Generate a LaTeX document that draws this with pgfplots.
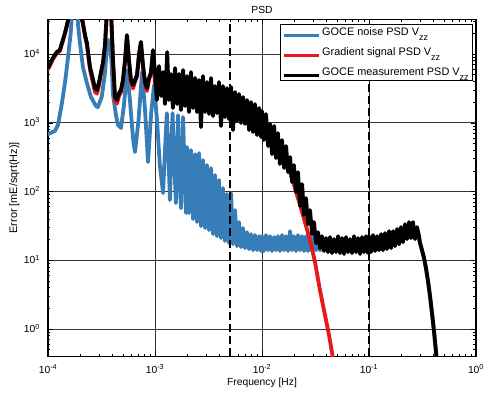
\documentclass[border=0pt]{standalone}
\usepackage{fontspec}
\setmainfont{Liberation Sans}
\usepackage{pgfplots}
\pgfplotsset{compat=1.18}
\usepackage{pgfplotstable}
\definecolor{nblue}{HTML}{377EB8}
\definecolor{sred}{HTML}{E41A1C}
\newcommand{\zz}{\raisebox{-5pt}[0pt][0pt]{\fontsize{9}{10}\selectfont zz}}

\pgfplotstableread{
x y
1.00e-4 685
1.16e-4 757
1.24e-4 926
1.35e-4 1935
1.44e-4 3790
1.54e-4 9040
1.63e-4 20200
1.69e-4 43700
1.79e-4 120000
1.91e-4 26400
1.99e-4 14450
2.12e-4 6470
2.31e-4 3790
2.52e-4 2370
2.81e-4 1750
2.93e-4 1690
3.18e-4 2370
3.41e-4 5290
3.56e-4 12640
3.67e-4 16000
3.80e-4 13500
3.93e-4 7400
4.05e-4 2530
4.32e-4 1290
4.51e-4 926
4.81e-4 838
5.13e-4 1810
5.47e-4 5850
5.83e-4 2140
6.23e-4 599
6.50e-4 375
7.02e-4 1095
7.57e-4 5470
8.07e-4 1530
8.61e-4 268
9.18e-4 1290
9.80e-4 3540
1.044e-3 1095
1.11e-3 242
1.19e-3 94.8
1.24e-3 400
1.29e-3 1380
1.34e-3 286
1.38e-3 75
1.42e-3 400
1.46e-3 1380
1.51e-3 286
1.57e-3 67.8
1.61e-3 286
1.64e-3 1290
1.69e-3 242
1.75e-3 57.3
1.79e-3 242
1.83e-3 1210
1.89e-3 205
1.95e-3 48.5
1.99e-3 443
2.08e-3 48.5
2.17e-3 400
2.27e-3 39.6
2.37e-3 350
2.47e-3 35.9
2.58e-3 362
2.69e-3 31.3
2.81e-3 286
2.94e-3 29.3
3.06e-3 242
3.20e-3 27.4
3.34e-3 219
3.49e-3 24
3.64e-3 173
3.80e-3 22.4
3.97e-3 147
4.14e-3 21
4.32e-3 112
4.51e-3 19
4.71e-3 91.6
4.92e-3 17.7
5.14e-3 94.8
5.36e-3 17.1
5.60e-3 53.6
5.85e-3 16
6.10e-3 35.9
6.37e-3 15.5
6.65e-3 29.3
6.94e-3 15
7.25e-3 25.6
7.57e-3 14.5
7.90e-3 24
8.25e-3 14
8.61e-3 23.2
8.99e-3 14
9.39e-3 22.4
9.80e-3 13.6
1.00e-2 22.4
1.04e-2 13.6
1.09e-2 23.2
1.14e-2 14
1.19e-2 22.4
1.24e-2 13.6
1.30e-2 21.7
1.35e-2 14
1.41e-2 22.4
1.47e-2 13.6
1.54e-2 23.2
1.61e-2 14
1.68e-2 22.4
1.75e-2 13.6
1.83e-2 26.5
1.91e-2 14
1.99e-2 22.4
2.08e-2 13.6
2.17e-2 23.2
2.27e-2 14
2.37e-2 22.4
2.47e-2 13.6
2.58e-2 22.4
2.69e-2 13.6
2.81e-2 22.4
2.94e-2 13.6
3.06e-2 21.7
3.20e-2 14
3.34e-2 21.7
3.49e-2 14
4.0e-2 17
5.0e-2 16.6
7.0e-2 16.8
0.10 17.5
0.13 18.5
0.16 20
0.20 23.5
0.25 28
0.28 25
0.300 17.7
0.313 14.0
0.327 10.7
0.341 7.67
0.356 4.97
0.372 3.0
0.388 1.70
0.405 0.93
0.423 0.46
0.432 0.30
}\noisetab

\pgfplotstableread{
x y
1.00e-4 6000
1.067e-4 7300
1.11e-4 8400
1.21e-4 10300
1.29e-4 11000
1.35e-4 14000
1.44e-4 19500
1.54e-4 30000
1.61e-4 60000
1.83e-4 100000
1.99e-4 60000
2.12e-4 27000
2.22e-4 18000
2.31e-4 13500
2.47e-4 5900
2.64e-4 3700
2.75e-4 2800
2.87e-4 2650
3.00e-4 3500
3.13e-4 5200
3.27e-4 7400
3.41e-4 13000
3.56e-4 44000
3.71e-4 100000
3.88e-4 44000
4.05e-4 7800
4.23e-4 2100
4.41e-4 1900
4.61e-4 2450
4.81e-4 2800
5.02e-4 4000
5.25e-4 8000
5.47e-4 18500
5.71e-4 8000
5.96e-4 3900
6.23e-4 3150
6.50e-4 3900
6.79e-4 4700
7.08e-4 9500
7.39e-4 14500
7.72e-4 6600
8.07e-4 3600
8.42e-4 2900
8.79e-4 4200
9.18e-4 5200
9.58e-4 11000
1.00e-3 3540
1.71e-3 2890
2.64e-3 2450
4.05e-3 2000
6.20e-3 1480
1.00e-2 926
1.47e-2 350
1.83e-2 191
2.27e-2 63.4
2.52e-2 35.9
2.81e-2 19.6
3.13e-2 9.4
3.48e-2 3.67
3.88e-2 1.59
4.23e-2 0.81
4.61e-2 0.376
}\signaltab

\pgfplotstableread{
x y
1.00e-4 6300
1.067e-4 7650
1.11e-4 8740
1.21e-4 10700
1.29e-4 11400
1.35e-4 14500
1.44e-4 20200
1.54e-4 31000
1.61e-4 60000
1.83e-4 100000
1.99e-4 60000
2.12e-4 28000
2.22e-4 18900
2.31e-4 14500
2.47e-4 6470
2.64e-4 4200
2.75e-4 3200
2.87e-4 3000
3.00e-4 3900
3.13e-4 5470
3.27e-4 7650
3.41e-4 13500
3.56e-4 44000
3.71e-4 100000
3.88e-4 44000
4.05e-4 8200
4.23e-4 2370
4.41e-4 2140
4.61e-4 2700
4.81e-4 3000
5.02e-4 4200
5.25e-4 8200
5.47e-4 18900
5.71e-4 8200
5.96e-4 4200
6.23e-4 3540
6.50e-4 4200
6.79e-4 4950
7.08e-4 9700
7.39e-4 15000
7.72e-4 6900
8.07e-4 3900
8.42e-4 3200
8.79e-4 4470
9.18e-4 5470
9.58e-4 11400
1.00e-3 5470
1.04e-3 2140
1.09e-3 6690
1.14e-3 2450
1.19e-3 5470
1.24e-3 1870
1.30e-3 10700
1.35e-3 2140
1.41e-3 5120
1.47e-3 1640
1.54e-3 6250
1.61e-3 1870
1.68e-3 5120
1.75e-3 1530
1.83e-3 5850
1.91e-3 1750
1.99e-3 4780
2.08e-3 1430
2.17e-3 5470
2.27e-3 1640
2.37e-3 4480
2.47e-3 1430
2.58e-3 4190
2.69e-3 865
2.81e-3 4780
2.94e-3 1430
3.06e-3 3910
3.20e-3 1340
3.34e-3 4480
3.49e-3 1250
3.64e-3 3420
3.80e-3 1380
3.97e-3 3910
4.14e-3 895
4.32e-3 3420
4.51e-3 1210
4.71e-3 3200
4.92e-3 1130
5.14e-3 3310
5.36e-3 783
5.60e-3 2800
5.85e-3 1060
6.10e-3 2620
6.37e-3 990
6.65e-3 2370
6.94e-3 958
7.25e-3 2140
7.57e-3 783
7.90e-3 2000
8.25e-3 732
8.61e-3 1870
8.99e-3 662
9.39e-3 1640
9.80e-3 620
1.00e-2 1480
1.04e-2 560
1.09e-2 1340
1.14e-2 458
1.19e-2 958
1.24e-2 350
1.30e-2 895
1.35e-2 306
1.41e-2 708
1.47e-2 251
1.54e-2 560
1.61e-2 219
1.68e-2 458
1.75e-2 191
1.83e-2 317
1.91e-2 137
1.99e-2 242
2.08e-2 98
2.17e-2 191
2.27e-2 61.3
2.37e-2 128
2.47e-2 45.4
2.58e-2 80.2
2.69e-2 33.5
2.81e-2 53.6
2.94e-2 24
3.06e-2 35.9
3.20e-2 17.7
3.34e-2 25.6
3.49e-2 15
3.64e-2 22.4
3.80e-2 13.6
3.97e-2 21
4.14e-2 13.1
4.32e-2 21.7
4.51e-2 12.7
4.71e-2 20.3
4.92e-2 13.1
5.14e-2 22.4
5.36e-2 12.7
5.60e-2 21
5.85e-2 12.3
6.10e-2 21.7
6.37e-2 13.1
6.65e-2 20.3
6.94e-2 12.7
7.25e-2 22.4
7.57e-2 13.1
7.90e-2 21
8.25e-2 12.3
8.61e-2 21.7
8.99e-2 13.1
9.39e-2 22.4
9.80e-2 12.7
0.100 22.4
0.104 13.1
0.109 23.2
0.114 13.6
0.119 22.4
0.124 14
0.130 24
0.135 14
0.141 24.8
0.147 14.5
0.154 26.5
0.161 15
0.168 26.5
0.175 16
0.183 28.4
0.191 17.1
0.199 30.3
0.208 18.3
0.217 33.5
0.227 20.3
0.237 35.9
0.247 21
0.258 35.9
0.269 20.3
0.281 30.3
0.294 22.4
0.300 17.7
0.313 14.0
0.327 10.7
0.341 7.67
0.356 4.97
0.372 3.0
0.388 1.70
0.405 0.93
0.423 0.46
0.432 0.30
}\meastab

\begin{document}
\begin{tikzpicture}
\begin{axis}[
  name=ax,
  scale only axis, width=428pt, height=337pt,
  xmode=log, ymode=log,
  xmin=1e-4, xmax=1, ymin=0.4, ymax=32000,
  xtick={1e-4,1e-3,1e-2,1e-1,1},
  xticklabels={10\textsuperscript{-4},10\textsuperscript{-3},10\textsuperscript{-2},10\textsuperscript{-1},10\textsuperscript{0}},
  ytick={1,10,100,1000,10000},
  yticklabels={10\textsuperscript{0},10\textsuperscript{1},10\textsuperscript{2},10\textsuperscript{3},10\textsuperscript{4}},
  minor xtick={2e-4,3e-4,4e-4,5e-4,6e-4,7e-4,8e-4,9e-4,2e-3,3e-3,4e-3,5e-3,6e-3,7e-3,8e-3,9e-3,2e-2,3e-2,4e-2,5e-2,6e-2,7e-2,8e-2,9e-2,0.2,0.3,0.4,0.5,0.6,0.7,0.8,0.9},
  minor ytick={0.5,0.6,0.7,0.8,0.9,2,3,4,5,6,7,8,9,20,30,40,50,60,70,80,90,200,300,400,500,600,700,800,900,2000,3000,4000,5000,6000,7000,8000,9000,20000,30000},
  tick align=inside, major tick length=5pt, minor tick length=2.5pt,
  every tick/.style={black, line width=0.5pt},
  grid=major, major grid style={black!80, line width=0.65pt},
  minor grid style={draw=none},
  axis line style={line width=1.1pt},
  tick label style={font=\fontsize{10.3}{12}\selectfont},
  xticklabel style={anchor=base, yshift=-17pt},
  yticklabel style={anchor=base east, inner sep=0pt, xshift=-8pt, yshift=-3.7pt},
  title={PSD},
  title style={at={(axis description cs:0.5,1)}, anchor=base, yshift=0.3pt, font=\fontsize{10.3}{12}\selectfont},
  xlabel={Frequency [Hz]},
  xlabel style={at={(axis description cs:0.5,-0.086)}, anchor=base, font=\fontsize{10.3}{12}\selectfont},
  ylabel={Error [mE/sqrt(Hz)]},
  ylabel style={at={(axis description cs:-0.0724,0.5)}, anchor=base, rotate=0, font=\fontsize{10.9}{12}\selectfont},
  legend cell align=left,
  legend style={at={(axis description cs:1,1)}, anchor=north east, xshift=-3.5pt, yshift=-5pt,
    draw=black, line width=0.6pt, fill=white, inner sep=1.5pt, row sep=6.6pt,
    font=\fontsize{10.9}{13}\selectfont,
    nodes={inner sep=2pt}},
  legend image code/.code={\draw[#1, line width=3pt, line cap=butt] (3pt,-3pt) -- (38pt,-3pt);},
  every axis plot/.append style={line join=round, line cap=round},
]
\addplot[nblue, line width=3.8pt] table[x=x, y=y] {\noisetab};
\addlegendentry{GOCE noise PSD V\zz}
\addplot[sred, line width=3.8pt] table[x=x, y=y] {\signaltab};
\addlegendentry{Gradient signal PSD V\zz}
\addplot[black, line width=3.8pt] table[x=x, y=y] {\meastab};
\addlegendentry{GOCE measurement PSD V\zz}
\addplot[forget plot, black, line width=2.2pt, dash pattern=on 8pt off 4pt, line cap=butt] coordinates {(5e-3,0.4) (5e-3,32000)};
\addplot[forget plot, black, line width=2.2pt, dash pattern=on 8pt off 4pt, line cap=butt] coordinates {(0.1,0.4) (0.1,32000)};
\end{axis}
\pgfresetboundingbox
\path[use as bounding box] ([xshift=-48pt,yshift=-38pt]ax.south west) rectangle ([xshift=8pt,yshift=19.3pt]ax.north east);
\end{tikzpicture}
\end{document}
